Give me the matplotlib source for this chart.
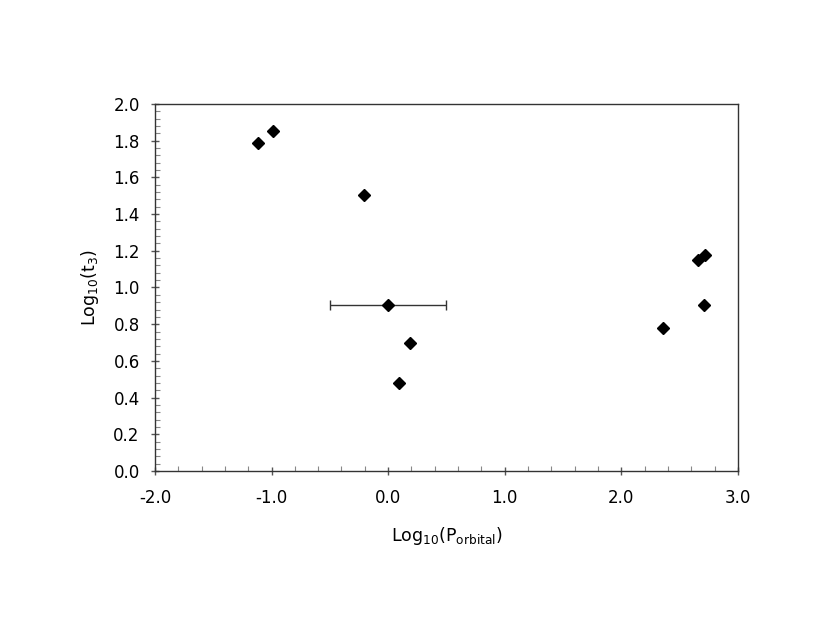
import matplotlib
matplotlib.use("Agg")
import matplotlib.pyplot as plt
from matplotlib.ticker import MultipleLocator, FormatStrFormatter

# valores
log_p = [-1.12, -0.99, -0.21, 0.0, 0.19, 0.09, 2.36, 2.66, 2.72, 2.71]
log_t3 = [1.79, 1.855, 1.505, 0.905, 0.70, 0.48, 0.778, 1.148, 1.178, 0.903]
# solo el punto en 0.0 tiene barra de error
err_x = 0.5
err_idx = 3

plt.rcParams['font.family'] = ['DejaVu Sans']
plt.rcParams['mathtext.default'] = 'regular'

fig = plt.figure(figsize=(8.3, 6.42), dpi=100)
ax = fig.add_axes([0.1867, 0.2664, 0.7023, 0.5716])

ax.errorbar([log_p[err_idx]], [log_t3[err_idx]], xerr=err_x, fmt='none',
            ecolor='#333333', elinewidth=1, capsize=3.5, capthick=1, zorder=2)
ax.plot(log_p, log_t3, 'D', color='black', ms=6, zorder=3)

ax.set_xlim(-2.0, 3.0)
ax.set_ylim(0.0, 2.0)
ax.xaxis.set_major_locator(MultipleLocator(1.0))
ax.xaxis.set_minor_locator(MultipleLocator(0.2))
ax.yaxis.set_major_locator(MultipleLocator(0.2))
ax.yaxis.set_minor_locator(MultipleLocator(0.04))
ax.xaxis.set_major_formatter(FormatStrFormatter('%.1f'))
ax.yaxis.set_major_formatter(FormatStrFormatter('%.1f'))

ax.tick_params(which='major', direction='inout', length=6, width=1, color='#555555',
               labelsize=12)
ax.tick_params(axis='x', which='major', pad=10)
ax.tick_params(axis='y', which='major', pad=8)
ax.tick_params(which='minor', direction='in', length=3.5, width=0.8, color='#888888')

for s in ax.spines.values():
    s.set_linewidth(1)
    s.set_color('#333333')

ax.set_xlabel('Log$_{10}$(P$_{orbital}$)', fontsize=12.5, labelpad=13)
ax.set_ylabel('Log$_{10}$(t$_3$)', fontsize=12.5, labelpad=9)

fig.savefig('out.png', dpi=100)
